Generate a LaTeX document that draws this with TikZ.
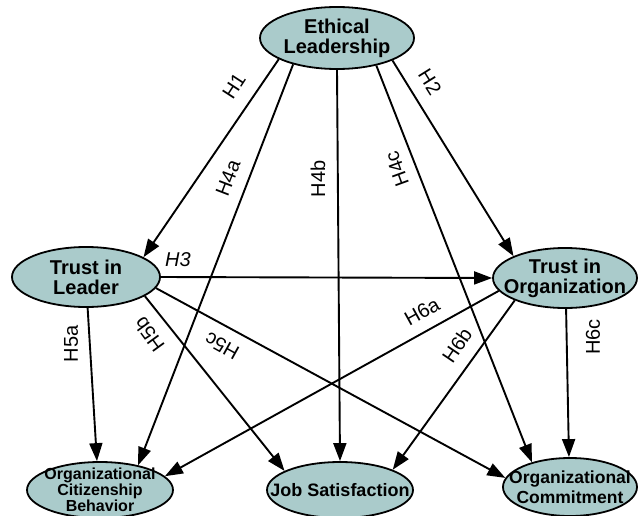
\documentclass[tikz,border=0pt]{standalone}
\usepackage{fontspec}
\setmainfont{Liberation Sans}
\usetikzlibrary{shapes.geometric,arrows.meta}
\definecolor{nodefill}{RGB}{170,203,203}
\tikzset{
	var/.style 2 args={ellipse, draw, fill=nodefill, line width=1.8pt, inner sep=0pt, minimum width=#1, minimum height=#2},
	vartext/.style={align=center, inner sep=0pt, font=\bfseries\fontsize{20}{20}\selectfont},
	hyp/.style={font=\fontsize{20}{24}\selectfont, inner sep=1pt},
}
\begin{document}
\begin{tikzpicture}[x=1pt, y=-1pt, line width=1.9pt, >={Triangle[length=18pt,width=13pt]}]
	\useasboundingbox (0,0) rectangle (639,516);
	\node[var={154pt}{62pt}, label={[vartext]center:Ethical\\Leadership}] (EL) at (337,38) {};
	\node[var={148pt}{60pt}, label={[vartext]center:Trust in\\Leader}] (TL) at (86,277) {};
	\node[var={144pt}{60pt}, label={[vartext]center:Trust in\\Organization}] (TO) at (565,278) {};
	\node[var={146pt}{56pt}, label={[vartext, font=\bfseries\fontsize{16}{16}\selectfont]center:Organizational\\Citizenship\\Behavior}] (OCB) at (100,490) {};
	\node[var={146pt}{56pt}, label={[vartext, font=\bfseries\fontsize{18}{20}\selectfont]center:Job Satisfaction}] (JS) at (340,490) {};
	\node[var={134pt}{58pt}, label={[vartext, font=\bfseries\fontsize{17.5}{20}\selectfont]center:Organizational\\Commitment}] (OC) at (570,487) {};
	% hypotheses
	\foreach \a/\b in {EL.-160/TL.19, EL.-149/OCB.33, EL.-90/JS.90, EL.-35/OC.147, EL.-22/TO.157,
		TL.0/TO.180, TL.-87/OCB.96, TL.-18/JS.161, TL.-9/OC.172,
		TO.-169/OCB.12, TO.-156/JS.21, TO.-88/OC.92}{
		\draw[->] (\a)--(\b);
	}
	\foreach \h/\x/\y/\r in {H1/234/86/57, H2/430/82/-58, H4a/228/178/69, H4b/318/179/90, H4c/397/169/110,
		H5a/71/344/90, H5b/149/335/126, H5c/222/346/151, H6a/422/312/29, H6b/457/345/56, H6c/593/337/90}{
		\node[hyp, rotate=\r] (l\h) at (\x,\y) {\h};
	}
	\node[hyp, font=\itshape\fontsize{20}{24}\selectfont] (lH3) at (178,260) {H3};
\end{tikzpicture}
\end{document}
